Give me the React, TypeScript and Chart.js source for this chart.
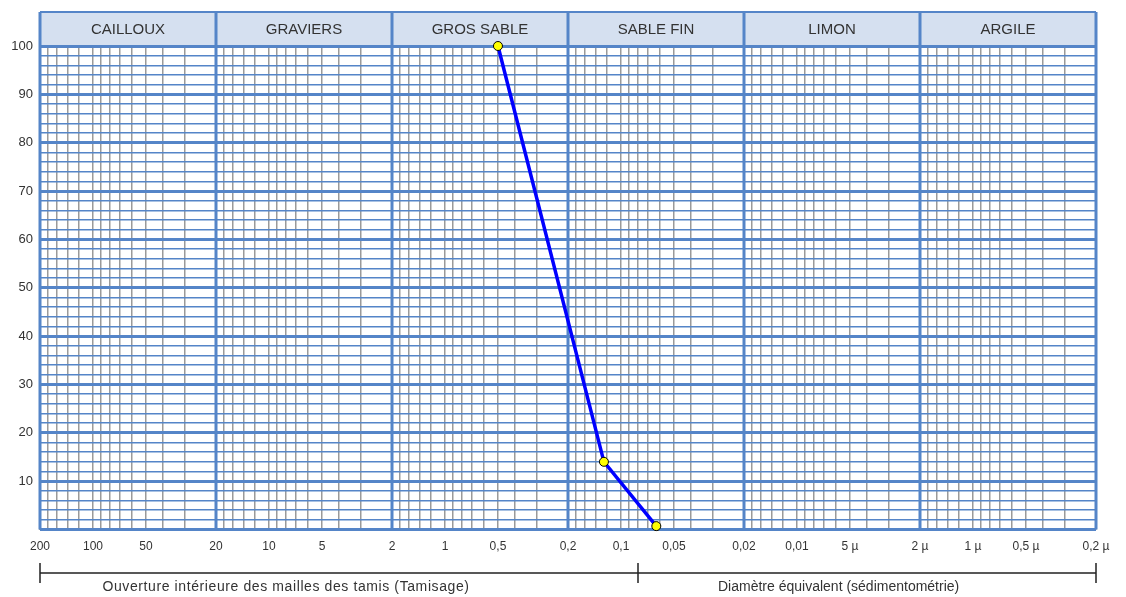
import React, { useEffect, useRef } from "react";
import { Chart, registerables } from "chart.js";

Chart.register(...registerables);

// Sieve openings (mm) and cumulative passing (%)
const sieveSizes = [0.5, 0.125, 0.063];
const passing = [100, 14, 0.7];

// Soil classes, each spanning one decade between these limits (mm)
const classNames = ["CAILLOUX", "GRAVIERS", "GROS SABLE", "SABLE FIN", "LIMON", "ARGILE"];
const decadeLimits = [200, 20, 2, 0.2, 0.02, 0.002, 0.0002];

// Labelled ticks on the size axis
const tickValues = [200, 100, 50, 20, 10, 5, 2, 1, 0.5, 0.2, 0.1, 0.05, 0.02, 0.01, 0.005, 0.002, 0.001, 0.0005, 0.0002];
const tickLabels = ["200", "100", "50", "20", "10", "5", "2", "1", "0,5", "0,2", "0,1", "0,05", "0,02", "0,01", "5 µ", "2 µ", "1 µ", "0,5 µ", "0,2 µ"];

// Grid multipliers inside each decade (2·10^n … 2·10^(n+1))
const gridMultipliers = [2, 3, 4, 5, 6, 7, 8, 9, 10, 12, 14, 16, 18];

// Split between sieving and sedimentation (mm)
const methodSplit = 0.08;
const methodLabels = ["Ouverture intérieure des mailles des tamis (Tamisage)", "Diamètre équivalent (sédimentométrie)"];
const methodLabelCenters = [8, 0.0058];

const FONT = "'Liberation Sans', Arial, sans-serif";
const BLUE = "#5585c8";
const GREY = "#9a9a9a";
const HEADER_TOP = 12;

const near = (a: number, b: number) => Math.abs(Math.log10(a) - Math.log10(b)) < 1e-6;

const gridValues: number[] = [];
for (let e = -4; e <= 2; e++) {
  for (const m of gridMultipliers) {
    const v = m * Math.pow(10, e);
    if (v >= 0.0002 * 0.999 && v <= 200 * 1.001 && !gridValues.some((g) => near(g, v))) gridValues.push(v);
  }
}

const headerPlugin = {
  id: "classHeader",
  beforeDatasetsDraw(chart: any) {
    const { ctx, chartArea, scales } = chart;
    const x = scales.x;
    const left = x.getPixelForValue(decadeLimits[0]);
    const right = x.getPixelForValue(decadeLimits[decadeLimits.length - 1]);
    ctx.save();
    ctx.fillStyle = "#d5e0f0";
    ctx.fillRect(left, HEADER_TOP, right - left, chartArea.top - HEADER_TOP);
    ctx.strokeStyle = BLUE;
    ctx.lineWidth = 2;
    ctx.beginPath();
    ctx.moveTo(left, HEADER_TOP);
    ctx.lineTo(right, HEADER_TOP);
    ctx.moveTo(left, chartArea.top);
    ctx.lineTo(right, chartArea.top);
    ctx.stroke();
    // decade lines through header and plot
    ctx.lineWidth = 3;
    ctx.beginPath();
    for (const d of decadeLimits) {
      const px = Math.round(x.getPixelForValue(d));
      ctx.moveTo(px, HEADER_TOP);
      ctx.lineTo(px, chartArea.bottom);
    }
    ctx.stroke();
    ctx.fillStyle = "#333";
    ctx.font = `15px ${FONT}`;
    ctx.textAlign = "center";
    ctx.textBaseline = "middle";
    classNames.forEach((name, i) => {
      const a = x.getPixelForValue(decadeLimits[i]);
      const b = x.getPixelForValue(decadeLimits[i + 1]);
      ctx.fillText(name, (a + b) / 2, (HEADER_TOP + chartArea.top) / 2 + 1);
    });
    ctx.restore();
  },
  afterDraw(chart: any) {
    const { ctx, scales } = chart;
    const x = scales.x;
    const y0 = 573;
    const marks = [decadeLimits[0], methodSplit, decadeLimits[decadeLimits.length - 1]].map((v) => Math.round(x.getPixelForValue(v)));
    ctx.save();
    ctx.strokeStyle = "#222";
    ctx.lineWidth = 1.5;
    ctx.beginPath();
    ctx.moveTo(marks[0], y0);
    ctx.lineTo(marks[2], y0);
    for (const m of marks) {
      ctx.moveTo(m, y0 - 10);
      ctx.lineTo(m, y0 + 10);
    }
    ctx.stroke();
    ctx.fillStyle = "#333";
    ctx.font = `14px ${FONT}`;
    ctx.textAlign = "center";
    ctx.textBaseline = "middle";
    methodLabels.forEach((t, i) => {
      ctx.letterSpacing = i === 0 ? "0.6px" : "0px";
      ctx.fillText(t, x.getPixelForValue(methodLabelCenters[i]), 587);
    });
    ctx.restore();
  },
};

export default function App() {
  const canvasRef = useRef<HTMLCanvasElement | null>(null);

  useEffect(() => {
    if (!canvasRef.current) return;
    const chart = new Chart(canvasRef.current, {
      type: "line",
      data: {
        datasets: [
          {
            data: sieveSizes.map((s, i) => ({ x: s, y: passing[i] })),
            borderColor: "#0000ff",
            borderWidth: 3.5,
            tension: 0,
            clip: false,
            pointRadius: 4.5,
            pointBackgroundColor: "#ffff00",
            pointBorderColor: "#000",
            pointBorderWidth: 1,
          },
        ],
      },
      options: {
        animation: false,
        responsive: false,
        devicePixelRatio: 1,
        layout: { padding: { top: 46, right: 30, left: 0, bottom: 0 } },
        plugins: { legend: { display: false }, tooltip: { enabled: false } },
        scales: {
          x: {
            type: "logarithmic",
            reverse: true,
            min: 0.0002,
            max: 200,
            z: -2,
            border: { display: false },
            afterBuildTicks: (scale: any) => {
              scale.ticks = gridValues.map((v) => ({ value: v }));
            },
            afterFit: (scale: any) => {
              scale.height = 67.5;
            },
            grid: {
              drawTicks: false,
              color: GREY,
              lineWidth: 1.5,
            },
            ticks: {
              autoSkip: false,
              maxRotation: 0,
              minRotation: 0,
              padding: 10,
              color: "#333",
              font: { family: FONT, size: 12 },
              callback: (value: any) => {
                const i = tickValues.findIndex((t) => near(t, Number(value)));
                return i >= 0 ? tickLabels[i] : "";
              },
            },
          },
          y: {
            min: 0,
            max: 100,
            z: -1,
            border: { display: false },
            afterFit: (scale: any) => {
              scale.width = 40;
            },
            grid: {
              drawTicks: false,
              color: BLUE,
              lineWidth: (ctx: any) => (ctx.tick && ctx.tick.value % 10 === 0 ? 3 : 1.5),
            },
            ticks: {
              stepSize: 2,
              autoSkip: false,
              padding: 7,
              color: "#333",
              font: { family: FONT, size: 13 },
              callback: (value: any) => (Number(value) % 10 === 0 && Number(value) > 0 ? String(value) : ""),
            },
          },
        },
      },
      plugins: [headerPlugin],
    });
    return () => chart.destroy();
  }, []);

  return (
    <div style={{ position: "absolute", left: 0, top: 0, width: 1126, height: 597, background: "#fff" }}>
      <canvas ref={canvasRef} width={1126} height={597} />
    </div>
  );
}
